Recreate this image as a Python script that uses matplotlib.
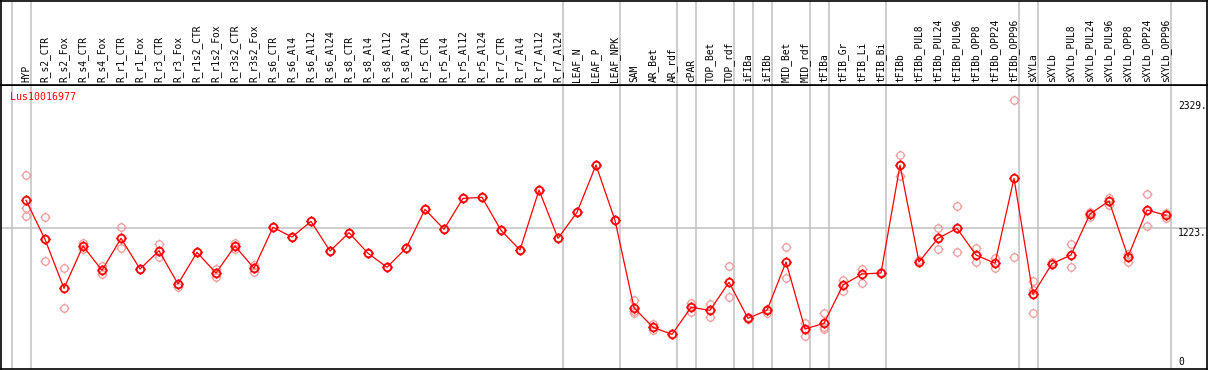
import matplotlib
matplotlib.use("Agg")
import matplotlib.pyplot as plt
import numpy as np
from matplotlib.path import Path
from matplotlib import transforms

gene = "Lus10016977"

samples = ["HYP", "R_s2_CTR", "R_s2_Fox", "R_s4_CTR", "R_s4_Fox", "R_r1_CTR", "R_r1_Fox",
           "R_r3_CTR", "R_r3_Fox", "R_r1s2_CTR", "R_r1s2_Fox", "R_r3s2_CTR", "R_r3s2_Fox",
           "R_s6_CTR", "R_s6_Al4", "R_s6_Al12", "R_s6_Al24", "R_s8_CTR", "R_s8_Al4",
           "R_s8_Al12", "R_s8_Al24", "R_r5_CTR", "R_r5_Al4", "R_r5_Al12", "R_r5_Al24",
           "R_r7_CTR", "R_r7_Al4", "R_r7_Al12", "R_r7_Al24", "LEAF_N", "LEAF_P", "LEAF_NPK",
           "SAM", "AR_Bet", "AR_rdf", "cPAR", "TOP_Bet", "TOP_rdf", "iFIBa", "iFIBb",
           "MID_Bet", "MID_rdf", "tFIBa", "tFIB_Gr", "tFIB_Li", "tFIB_Bi", "tFIBb",
           "tFIBb_PUL8", "tFIBb_PUL24", "tFIBb_PUL96", "tFIBb_OPP8", "tFIBb_OPP24",
           "tFIBb_OPP96", "sXYLa", "sXYLb", "sXYLb_PUL8", "sXYLb_PUL24", "sXYLb_PUL96",
           "sXYLb_OPP8", "sXYLb_OPP24", "sXYLb_OPP96"]

# mean expression (line)
means = [1465, 1124, 696, 1066, 853, 1133, 865, 1025, 734, 1010, 830, 1066, 871,
         1229, 1144, 1281, 1022, 1182, 1002, 880, 1046, 1386, 1212, 1482, 1491,
         1203, 1031, 1555, 1133, 1360, 1773, 1290,
         527, 355, 294, 530, 504, 749, 434, 504, 926, 341, 390, 725, 821, 830, 1771,
         926, 1133, 1220, 987, 915, 1657, 644, 911, 987, 1345, 1459, 972, 1380, 1334]

# individual replicates (pink circles)
replicates = [[1683, 1395, 1328], [1316, 932], [871, 522], [1089, 1037], [891, 824],
              [1229, 1048], [865], [1083, 972], [710], [1010], [862, 792], [1089, 1042],
              [900, 841],
              [1229], [1144], [1281], [1022], [1182], [1002], [880], [1046], [1386], [1212],
              [1482], [1491], [1203], [1031], [1555], [1133], [1360], [1773], [1290],
              [591, 495, 483], [382, 332], [300], [571, 489], [559, 448], [891, 618],
              [448, 425], [518, 483], [1057, 783], [393, 282], [478, 338, 355], [766, 670],
              [865, 740], [839], [1861, 1675],
              [941], [1220, 1037], [1418, 1016], [1046, 929], [958, 871], [2340, 967],
              [763, 681, 478], [929], [1083, 880], [1366, 1322], [1488, 1424], [993, 929],
              [1520, 1240], [1357, 1308]]

# group separators (after these sample indices)
separators = [-1, 0, 28, 31, 34, 35, 37, 38, 39, 41, 42, 45, 52, 53, 60]
ref_ticks = [2329, 1223]

# circle with four little ticks, like the original marker
circ = Path.circle((0, 0), 1.0)
tick_v = []
tick_c = []
for dx, dy in [(0, 1), (0, -1), (1, 0), (-1, 0)]:
    tick_v += [(dx * 1.0, dy * 1.0), (dx * 1.35, dy * 1.35)]
    tick_c += [Path.MOVETO, Path.LINETO]
marker = Path.make_compound_path(circ, Path(tick_v, tick_c))

W, H = 1209, 370
fig = plt.figure(figsize=(W / 100, H / 100), dpi=100)
plt.rcParams['font.family'] = 'DejaVu Sans Mono'

ax = fig.add_axes([1 / W, 1 / H, 1206 / W, 284 / H])
axt = fig.add_axes([1 / W, 285 / H, 1206 / W, 84.5 / H], sharex=ax)

x = np.arange(len(samples))
ax.set_xlim((1 - 26) / 19, (1207 - 26) / 19)
ax.set_ylim(-1 / 0.11447, 283 / 0.11447)
axt.set_ylim(0, 1)

for a in (ax, axt):
    for s in a.spines.values():
        s.set_color('black')
        s.set_linewidth(1.2)
    a.tick_params(left=False, bottom=False, labelleft=False, labelbottom=False)
    for sp in separators:
        a.axvline(sp + 0.247, color='#c0c0c0', lw=1.1, zorder=0)

ax.axhline(1223, color='#c0c0c0', lw=1.1, zorder=0)

for i, reps in enumerate(replicates):
    ax.plot([i] * len(reps), reps, linestyle='none', marker=marker, markersize=7.2,
            markerfacecolor='none', markeredgecolor='#f09a9a', markeredgewidth=0.9, zorder=2)

ax.plot(x, means, color='red', lw=0.9, zorder=3)
ax.plot(x, means, linestyle='none', marker=marker, markersize=7.4,
        markerfacecolor='none', markeredgecolor='red', markeredgewidth=1.3, zorder=4)

for i, s in enumerate(samples):
    axt.text(i, 0.035, s, rotation=90, ha='center', va='bottom', fontsize=6.9)

ax.text(0.0075, 0.957, gene, transform=ax.transAxes, color='red', fontsize=7.1,
        ha='left', va='center')

tr = transforms.blended_transform_factory(ax.transAxes, ax.transData)
for t in ref_ticks:
    ax.text((1178 - 1) / 1206, t, f"{t}.", transform=tr, fontsize=6.9,
            ha='left', va='top')
ax.text((1178 - 1) / 1206, 0.0236, "0", transform=ax.transAxes, fontsize=6.9,
        ha='left', va='center')

fig.savefig("out.png", dpi=100)
